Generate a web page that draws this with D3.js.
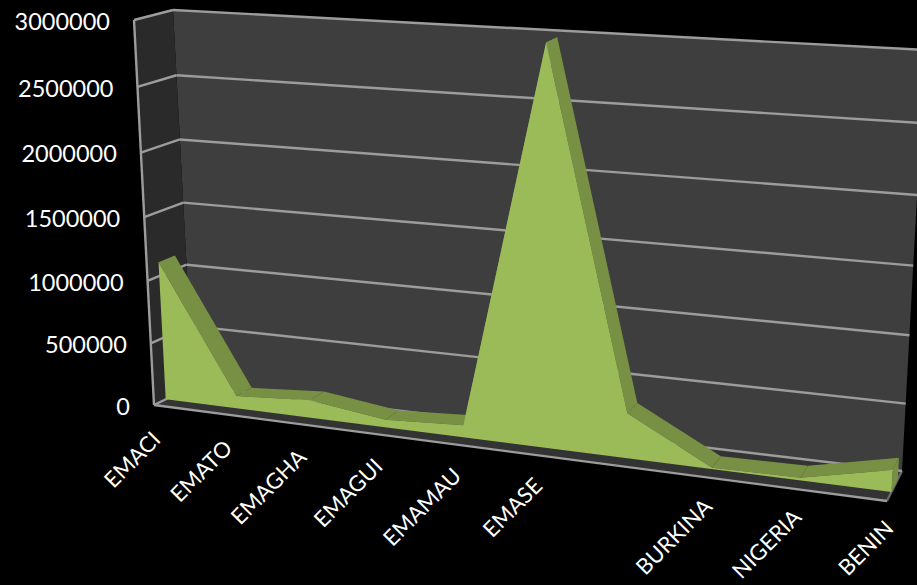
<!DOCTYPE html>
<html><head><meta charset="utf-8">
<script src="https://cdn.jsdelivr.net/npm/d3@7"></script>
<style>html,body{margin:0;background:#000}svg{display:block}text{font-family:Lato,"Open Sans",sans-serif;fill:#fff}</style>
</head><body><div id="c"></div>
<script>
const categories=["EMACI","EMATO","EMAGHA","EMAGUI","EMAMAU","EMASE","","BURKINA","NIGERIA","BENIN"];
const values=[1110000,100000,140000,60000,95000,2980000,340000,10000,20000,160000];
const yTicks=[0,500000,1000000,1500000,2000000,2500000,3000000];
const W=917,H=585;
const svg=d3.select("#c").append("svg").attr("width",W).attr("height",H);
svg.append("rect").attr("width",W).attr("height",H).attr("fill","#000");
// box corners of the perspective frame: [depth][value][side]
const corner={f:{b:{l:[154,405],r:[887,501]},t:{l:[134,20],r:[910,65]}},
              k:{b:{l:[193,386],r:[902,471]},t:{l:[173,10],r:[925,50]}}};
const uScale=d3.scalePoint().domain(d3.range(categories.length)).range([0,1]);
const vScale=d3.scaleLinear().domain([0,3000000]).range([0,1]);
const warp=(u,r)=>u/(u+(1-u)*r);
const V=t=>warp(vScale(t),1.05);
const lerp=(a,b,t)=>[a[0]+(b[0]-a[0])*t,a[1]+(b[1]-a[1])*t];
function P(u,v,d){
  const fb=lerp(corner.f.b.l,corner.f.b.r,u),ft=lerp(corner.f.t.l,corner.f.t.r,u);
  const kb=lerp(corner.k.b.l,corner.k.b.r,u),kt=lerp(corner.k.t.l,corner.k.t.r,u);
  return lerp(lerp(fb,ft,v),lerp(kb,kt,v),d);
}
const line=d3.line();
const poly=(pts,fill)=>svg.append("path").attr("d",line(pts)+"Z").attr("fill",fill);
const seg=(a,b,o=1)=>svg.append("path").attr("d",line([a,b])).attr("fill","none").attr("stroke","#9c9c9c").attr("stroke-width",2.4).attr("opacity",o);
poly([P(0,0,1),P(1,0,1),P(1,1,1),P(0,1,1)],"#3e3e3e");
poly([P(0,0,0),P(0,0,1),P(0,1,1),P(0,1,0)],"#2a2a2a");
poly([P(0,0,0),P(1,0,0),P(1,0,1),P(0,0,1)],"#333333");
yTicks.forEach(t=>{const v=V(t);seg(P(0,v,0),P(0,v,1));seg(P(0,v,1),P(1,v,1));});
seg(P(0,0,0),P(0,1,0));
seg(P(0,0,0),P(1,0,0));
seg(P(1,0,0),P(1,0,1),.6);
// area
const D1=.3,D2=.72,BAND="#779044",FACE="#9bbb59";
const xs=categories.map((c,i)=>warp(uScale(i),1.15));
const vs=values.map(V);
for(let i=0;i<xs.length-1;i++){
  poly([P(xs[i],vs[i],D1),P(xs[i+1],vs[i+1],D1),P(xs[i+1],vs[i+1],D2),P(xs[i],vs[i],D2)],BAND);
}
const n=xs.length-1;
poly([P(1,vs[n],D1),P(1,vs[n],D2),P(1,0,D2),P(1,0,D1)],BAND);
poly([P(0,0,D1),...xs.map((x,i)=>P(x,vs[i],D1)),P(1,0,D1)],FACE);
// labels
const fmt=d3.format("d");
yTicks.forEach(t=>{const p=P(0,V(t),0);
  svg.append("text").attr("x",p[0]-24).attr("y",p[1]+1.5).attr("dy",".35em").attr("text-anchor","end").attr("font-size",23.5).text(fmt(t));});
categories.forEach((c,i)=>{ if(!c) return;
  const p=P(xs[i],0,0);
  svg.append("text").attr("transform",`translate(${p[0]-3},${p[1]+25-7*xs[i]}) rotate(-45)`).attr("text-anchor","end").attr("font-size",22).attr("dy",".7em").text(c);});
</script></body></html>
